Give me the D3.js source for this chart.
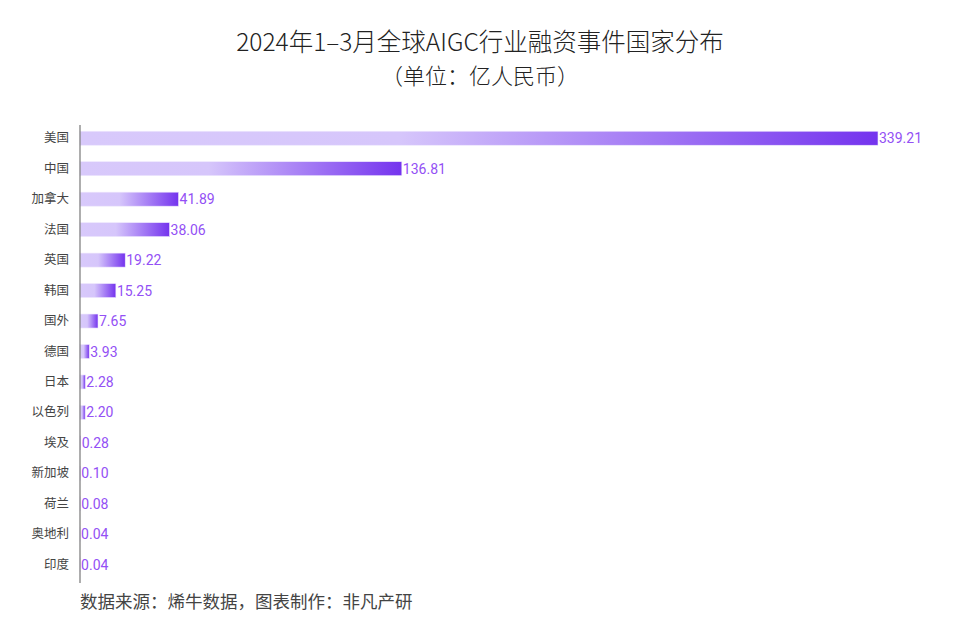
<!DOCTYPE html>
<html><head><meta charset="utf-8">
<script src="https://cdn.jsdelivr.net/npm/d3@7"></script>
<style>
body{margin:0;background:#fff;}
svg{display:block;font-family:"Noto Sans CJK SC","Noto Sans",sans-serif;}
</style></head><body>
<svg id="c" width="960" height="638"></svg>
<script>
const categories = ["美国","中国","加拿大","法国","英国","韩国","国外","德国","日本","以色列","埃及","新加坡","荷兰","奥地利","印度"];
const values = [339.21,136.81,41.89,38.06,19.22,15.25,7.65,3.93,2.28,2.20,0.28,0.10,0.08,0.04,0.04];
const labels = ["339.21","136.81","41.89","38.06","19.22","15.25","7.65","3.93","2.28","2.20","0.28","0.10","0.08","0.04","0.04"];
const titleLines = ["2024年1–3月全球AIGC行业融资事件国家分布","（单位：亿人民币）"];
const footer = "数据来源：烯牛数据，图表制作：非凡产研";

const svg = d3.select("#c");
const mLeft = 80, mRight = 878, mTop = 123, mBottom = 580;

const x = d3.scaleLinear().domain([0, 339.21]).range([mLeft, mRight]);
const y = d3.scaleBand().domain(categories).range([mTop, mBottom]).paddingInner(0.54).paddingOuter(0.27);

const defs = svg.append("defs");
const grad = defs.append("linearGradient").attr("id","g").attr("x1","0%").attr("x2","100%");
grad.append("stop").attr("offset","0%").attr("stop-color","#d8c9fb");
grad.append("stop").attr("offset","40%").attr("stop-color","#d6c6fb");
grad.append("stop").attr("offset","100%").attr("stop-color","#7433ee");

svg.append("g").attr("text-anchor","middle").attr("fill","#222")
  .style("font-weight","300")
  .selectAll("text").data(titleLines).join("text")
  .attr("x",480).attr("y",(d,i)=>i===0?50.5:83.5)
  .style("font-size",(d,i)=>i===0?"24.5px":"22px")
  .text(d=>d);

svg.append("g").selectAll("rect").data(values).join("rect")
  .attr("x", x(0))
  .attr("y", (d,i)=>y(categories[i]))
  .attr("width", d=>Math.max(0, x(d)-x(0)))
  .attr("height", y.bandwidth())
  .attr("fill","url(#g)")
  .attr("stroke","#efe8fd").attr("stroke-width",0.6);

svg.append("g").selectAll("text").data(values).join("text")
  .attr("x", d=>x(d)+1)
  .attr("y", (d,i)=>y(categories[i])+y.bandwidth()/2)
  .attr("dy","0.36em")
  .attr("fill","#9350f5")
  .style("font-family","Roboto,'Noto Sans',sans-serif")
  .style("font-size","14px")
  .text((d,i)=>labels[i]);

const yAxis = d3.axisLeft(y).tickSize(0).tickPadding(11);
const ga = svg.append("g").attr("transform",`translate(${mLeft},0)`).call(yAxis);
ga.select(".domain").attr("stroke","#777").attr("stroke-width",1.2).attr("d",`M0,${mTop+2}V${mBottom+3}`);
ga.selectAll("text").attr("fill","#444").style("font-size","12.5px")
  .style("font-family","'Noto Sans CJK SC',sans-serif");

svg.append("text").attr("x",80).attr("y",608).attr("fill","#444")
  .style("font-size","17.5px").text(footer);
</script>
</body></html>
